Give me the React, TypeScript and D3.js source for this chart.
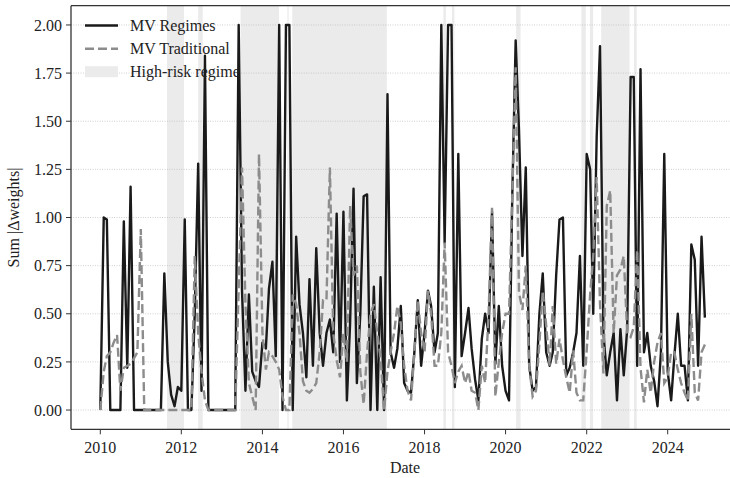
import React from "react";
import * as d3 from "d3";

const W = 730;
const H = 478;

// monthly observations starting January 2010
const START = new Date(2010, 0, 1);

const regimes: number[] = [
  0, 1.0, 0.99, 0, 0, 0, 0, 0.98, 0.22, 1.16,
  0, 0, 0, 0, 0, 0, 0, 0, 0, 0.71,
  0.25, 0.08, 0.02, 0.12, 0.1, 0.99, 0, 0, 0.5, 1.28,
  0.1, 1.84, 0, 0, 0, 0, 0, 0, 0, 0,
  0, 2.0, 0.62, 0.1, 0.6, 0.2, 0.15, 0.12, 0.35, 0.32,
  0.63, 0.77, 0.28, 2.0, 0.0, 2.0, 2.0, 0.0, 0.9, 0.55,
  0.4, 0.17, 0.68, 0.23, 0.84, 0.4, 0.23, 0.4, 0.47, 0.3,
  1.02, 0.25, 1.03, 0.05, 0.45, 1.15, 0.14, 0.5, 1.11, 1.12,
  0.0, 0.64, 0.0, 0.69, 0.0, 1.64, 0.3, 0.22, 0.32, 0.54,
  0.14, 0.1, 0.09, 0.3, 0.57, 0.23, 0.4, 0.62, 0.54, 0.3,
  0.4, 2.0, 0.87, 2.0, 2.0, 0.12, 1.33, 0.28, 0.4, 0.53,
  0.32, 0.16, 0.05, 0.37, 0.5, 0.4, 1.03, 0.24, 0.54, 0.23,
  0.1, 0.05, 1.1, 1.92, 1.45, 0.8, 1.26, 0.23, 0.1, 0.12,
  0.5, 0.71, 0.3, 0.23, 0.3, 0.7, 0.99, 1.0, 0.18, 0.22,
  0.3, 0.4, 0.8, 0.23, 1.33, 1.25, 0.5, 1.42, 1.89, 0.4,
  0.18, 0.3, 0.4, 0.05, 0.42, 0.18, 0.42, 1.73, 1.73, 0.23,
  1.77, 0.3, 0.4, 0.23, 0.15, 0.02, 0.3, 1.33, 0.2, 0.05,
  0.28, 0.5, 0.23, 0.23, 0.05, 0.86, 0.78, 0.23, 0.9, 0.48,
];

const traditional: number[] = [
  0, 0.2, 0.28, 0.3, 0.35, 0.39, 0.1, 0.22, 0.23, 0.24,
  0.27, 0.3, 0.94, 0, 0, 0, 0, 0, 0, 0,
  0, 0, 0, 0, 0, 0, 0, 0, 0.8, 0.4,
  0.2, 0.05, 0, 0, 0, 0, 0, 0, 0, 0,
  0, 0.63, 1.26, 0.55, 0.14, 0.07, 0.0, 1.33, 0.4, 0.21,
  0.3, 0.28, 0.25, 0.21, 0.07, 0.0, 0.0, 0.6, 0.55, 0.4,
  0.15, 0.1, 0.09, 0.11, 0.14, 0.3, 0.57, 0.57, 1.26, 0.4,
  0.26, 0.17, 0.4, 0.25, 1.06, 0.7, 0.75, 0.2, 0.03, 0.3,
  0.5, 0.55, 0.4, 0.27, 0.0, 0.2, 0.3, 0.4, 0.54, 0.45,
  0.23, 0.1, 0.05, 0.3, 0.57, 0.4, 0.3, 0.62, 0.5, 0.23,
  0.23, 0.4, 0.87, 0.3, 0.23, 0.14, 0.2, 0.23, 0.14, 0.2,
  0.1, 0.09, 0.0, 0.23, 0.14, 0.5, 1.05, 0.07, 0.25, 0.4,
  0.5, 0.5, 1.1, 1.78, 0.61, 0.52, 0.75, 0.23, 0.07, 0.1,
  0.35, 0.62, 0.44, 0.23, 0.54, 0.24, 0.37, 0.26, 0.17, 0.09,
  0.31, 0.09, 0.05, 0.05, 0.31, 0.6, 0.8, 1.21, 0.55, 0.19,
  1.06, 1.14, 0.4, 0.7, 0.73, 0.8, 0.4, 0.38, 0.43, 0.83,
  0.22, 0.04, 0.21, 0.09, 0.25, 0.35, 0.4, 0.14, 0.17, 0.3,
  0.3, 0.21, 0.14, 0.09, 0.05, 0.5, 0.09, 0.05, 0.3, 0.34,
];

const highRiskStart: string[] = [
  "2011-08-25", "2012-06-01", "2013-06-18", "2014-08-14", "2014-09-27",
  "2018-06-20", "2018-09-05", "2020-04-05", "2021-11-14", "2022-01-30",
  "2022-05-12", "2023-03-03",
];
const highRiskEnd: string[] = [
  "2012-01-25", "2012-07-12", "2014-05-30", "2014-08-25", "2017-01-26",
  "2018-07-12", "2018-09-27", "2020-05-15", "2021-12-24", "2022-02-28",
  "2023-01-22", "2023-03-28",
];

const yTicks: number[] = [0, 0.25, 0.5, 0.75, 1.0, 1.25, 1.5, 1.75, 2.0];
const xTickYears: number[] = [2010, 2012, 2014, 2016, 2018, 2020, 2022, 2024];

const legendLabels = ["MV Regimes", "MV Traditional", "High-risk regime"];

const FONT = "'Liberation Serif', 'Times New Roman', 'DejaVu Serif', serif";

export default function App() {
  const left = 71;
  const right = 739;
  const top = 5.7;
  const bottom = 429.3;

  const x = d3
    .scaleTime()
    .domain([new Date(2010, 0, 1), new Date(2024, 0, 1)])
    .range([100.3, 667.7]);
  const y = d3.scaleLinear().domain([-0.1, 2.1]).range([bottom, top]);

  const dates = d3.timeMonth.range(START, d3.timeMonth.offset(START, regimes.length));
  const line = d3
    .line<number>()
    .x((_, i) => x(dates[i]))
    .y((d) => y(d))
    .curve(d3.curveLinear);

  const parse = d3.timeParse("%Y-%m-%d");
  const bands = highRiskStart.map((s, i) => [parse(s)!, parse(highRiskEnd[i])!]);

  const lgX0 = 85;
  const lgX1 = 118;
  const lgY = [25.5, 48.7, 71.7];

  return (
    <svg
      width={W}
      height={H}
      style={{ position: "absolute", left: 0, top: 0, background: "#fff" }}
      fontFamily={FONT}
    >
      <defs>
        <clipPath id="plotclip">
          <rect x={left} y={top} width={right - left} height={bottom - top} />
        </clipPath>
      </defs>
      <rect x={0} y={0} width={W} height={H} fill="#fff" />
      <g clipPath="url(#plotclip)">
        {bands.map(([a, b], i) => (
          <rect
            key={i}
            x={x(a)}
            y={top}
            width={Math.max(1, x(b) - x(a))}
            height={bottom - top}
            fill="#ebebeb"
          />
        ))}
        {yTicks.map((t) => (
          <line
            key={t}
            x1={left}
            x2={right}
            y1={y(t)}
            y2={y(t)}
            stroke="#b8b8b8"
            strokeWidth={0.8}
            strokeDasharray="0.8,1.6"
          />
        ))}
        <path
          d={line(regimes) || ""}
          fill="none"
          stroke="#1a1a1a"
          strokeWidth={2.4}
          strokeLinejoin="round"
        />
        <path
          d={line(traditional) || ""}
          fill="none"
          stroke="#8c8c8c"
          strokeWidth={2.4}
          strokeDasharray="9,4"
        />
      </g>

      {/* spines */}
      <line x1={left} x2={right} y1={top} y2={top} stroke="#333" strokeWidth={1.3} />
      <line x1={left} x2={right} y1={bottom} y2={bottom} stroke="#333" strokeWidth={1.3} />
      <line x1={left} x2={left} y1={top} y2={bottom} stroke="#333" strokeWidth={1.3} />
      <line x1={right} x2={right} y1={top} y2={bottom} stroke="#333" strokeWidth={1.3} />

      {/* y axis */}
      {yTicks.map((t) => (
        <g key={t}>
          <line x1={left - 5} x2={left} y1={y(t)} y2={y(t)} stroke="#333" strokeWidth={1} />
          <text x={left - 9} y={y(t)} dy="0.35em" textAnchor="end" fontSize={16} fill="#222">
            {d3.format(".2f")(t)}
          </text>
        </g>
      ))}
      {/* x axis */}
      {xTickYears.map((yr) => {
        const px = x(new Date(yr, 0, 1));
        return (
          <g key={yr}>
            <line x1={px} x2={px} y1={bottom} y2={bottom + 5} stroke="#333" strokeWidth={1} />
            <text x={px} y={453} textAnchor="middle" fontSize={16} fill="#222">
              {yr}
            </text>
          </g>
        );
      })}
      <text x={(left + right) / 2} y={473} textAnchor="middle" fontSize={16} fill="#222">
        Date
      </text>
      <text
        transform={`translate(19, ${(top + bottom) / 2}) rotate(-90)`}
        textAnchor="middle"
        fontSize={16}
        fill="#222"
      >
        Sum |Δweights|
      </text>

      {/* legend */}
      <line x1={lgX0} x2={lgX1} y1={lgY[0]} y2={lgY[0]} stroke="#1a1a1a" strokeWidth={2.4} />
      <line
        x1={lgX0}
        x2={lgX1}
        y1={lgY[1]}
        y2={lgY[1]}
        stroke="#8c8c8c"
        strokeWidth={2.4}
        strokeDasharray="9,4"
      />
      <rect x={lgX0} y={lgY[2] - 5.5} width={lgX1 - lgX0} height={11} fill="#ebebeb" />
      {legendLabels.map((l, i) => (
        <text key={l} x={130} y={lgY[i]} dy="0.33em" fontSize={16} fill="#222">
          {l}
        </text>
      ))}
    </svg>
  );
}
